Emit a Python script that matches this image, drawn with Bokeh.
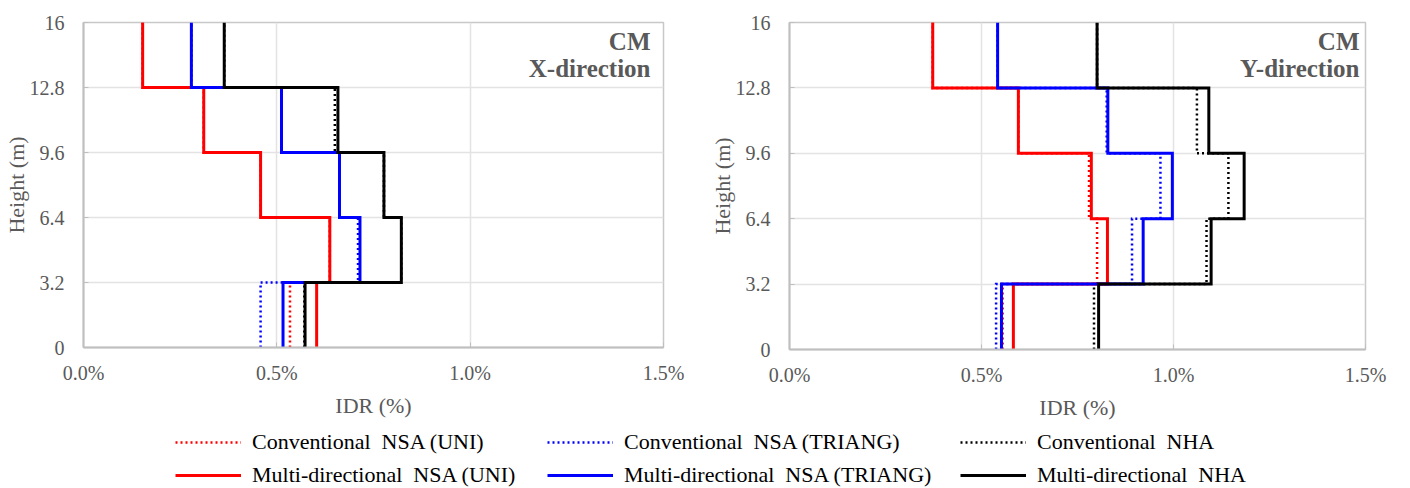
import numpy as np
from bokeh.plotting import figure
from bokeh.layouts import column, row
from bokeh.models import (FixedTicker, PrintfTickFormatter, Label, Legend,
                          LegendItem, Range1d)
from bokeh.embed import file_html
from bokeh.resources import INLINE

# Storey levels (m) and the tick labels on the height axis
heights = [0, 3.2, 6.4, 9.6, 12.8, 16]
idr_ticks = [0.0, 0.5, 1.0, 1.5]

# Inter-storey drift ratio (%) per storey, from storey 1 (bottom) to storey 5 (top)
# X-direction
x_conv_uni = [0.534, 0.637, 0.458, 0.311, 0.153]
x_multi_uni = [0.603, 0.637, 0.458, 0.311, 0.153]
x_conv_tri = [0.458, 0.710, 0.662, 0.512, 0.279]
x_multi_tri = [0.516, 0.715, 0.662, 0.512, 0.279]
x_conv_nha = [0.571, 0.822, 0.777, 0.650, 0.364]
x_multi_nha = [0.573, 0.822, 0.777, 0.658, 0.364]

# Y-direction
y_conv_uni = [0.555, 0.801, 0.780, 0.596, 0.373]
y_multi_uni = [0.583, 0.828, 0.786, 0.596, 0.373]
y_conv_tri = [0.538, 0.892, 0.966, 0.826, 0.542]
y_multi_tri = [0.552, 0.921, 0.997, 0.829, 0.542]
y_conv_nha = [0.793, 1.086, 1.143, 1.061, 0.801]
y_multi_nha = [0.805, 1.098, 1.184, 1.092, 0.801]

series_names = [
    "Conventional  NSA (UNI)", "Conventional  NSA (TRIANG)", "Conventional  NHA",
    "Multi-directional  NSA (UNI)", "Multi-directional  NSA (TRIANG)", "Multi-directional  NHA",
]

RED, BLUE, BLACK = "#ff0000", "#0000ff", "#000000"
GREY_TEXT = "#595959"
FONT = "Liberation Serif"
DOT = "2 3"

styles = [
    dict(line_color=RED, line_dash=DOT, line_width=2.5),
    dict(line_color=BLUE, line_dash=DOT, line_width=2.5),
    dict(line_color=BLACK, line_dash=DOT, line_width=2.5),
    dict(line_color=RED, line_width=3),
    dict(line_color=BLUE, line_width=3),
    dict(line_color=BLACK, line_width=3),
]


def storey_profile(values):
    """Turn per-storey drifts into a stepped drift-vs-height path."""
    h = np.asarray(heights, dtype=float)
    xs = np.repeat(np.asarray(values, dtype=float), 2)
    ys = np.column_stack([h[:-1], h[1:]]).ravel()
    return xs, ys


def make_panel(series, direction, left, right, top, bottom, fw, fh, tx):
    p = figure(frame_width=fw, frame_height=fh,
               min_border_left=left, min_border_right=right,
               min_border_top=top, min_border_bottom=bottom,
               x_range=Range1d(0, 1.5), y_range=Range1d(0, 16),
               output_backend="svg", toolbar_location=None,
               background_fill_color="white", border_fill_color="white")
    p.outline_line_color = "#c8c8c8"
    p.outline_line_width = 1.5

    for vals, st in zip(series, styles):
        xs, ys = storey_profile(vals)
        p.line(xs, ys, line_cap="butt", line_join="miter", **st)

    p.xaxis.ticker = FixedTicker(ticks=idr_ticks)
    p.xaxis.formatter = PrintfTickFormatter(format="%.1f%%")
    p.yaxis.ticker = FixedTicker(ticks=heights)
    p.yaxis.formatter = PrintfTickFormatter(format="%g")

    for ax in (p.xaxis[0], p.yaxis[0]):
        ax.axis_line_color = "#bfbfbf"
        ax.axis_line_width = 2
        ax.major_tick_line_color = "#bfbfbf"
        ax.major_tick_in = 5
        ax.major_tick_out = 0
        ax.minor_tick_line_color = None
        ax.major_label_text_font = FONT
        ax.major_label_text_font_size = "20px"
        ax.major_label_text_color = GREY_TEXT
        ax.axis_label_text_font = FONT
        ax.axis_label_text_font_size = "22px"
        ax.axis_label_text_font_style = "normal"
        ax.axis_label_text_color = GREY_TEXT

    p.xaxis.axis_label = "IDR (%)"
    p.yaxis.axis_label = "Height (m)"
    p.xaxis.major_label_standoff = 14
    p.xaxis.axis_label_standoff = 6
    p.yaxis.major_label_standoff = 19
    p.yaxis.axis_label_standoff = -2

    p.xgrid.grid_line_color = "#e3e3e3"
    p.ygrid.grid_line_color = "#e3e3e3"
    p.xgrid.grid_line_width = 1.5
    p.ygrid.grid_line_width = 1.5

    for txt, dy in (("CM", -19), (direction, -46)):
        p.add_layout(Label(x=1.5, y=16, x_offset=tx, y_offset=dy, text=txt,
                           text_align="right", text_baseline="middle",
                           text_font=FONT, text_font_size="25px",
                           text_font_style="bold", text_color=GREY_TEXT))
    return p


p1 = make_panel([x_conv_uni, x_conv_tri, x_conv_nha, x_multi_uni, x_multi_tri, x_multi_nha],
                "X-direction", left=83, right=37, top=17, bottom=78, fw=580, fh=325, tx=-13)
p2 = make_panel([y_conv_uni, y_conv_tri, y_conv_nha, y_multi_uni, y_multi_tri, y_multi_nha],
                "Y-direction", left=89, right=45, top=22, bottom=71, fw=576, fh=327, tx=-6)

# Shared legend strip underneath both panels; the key renderers hold a single
# NaN point so that only their legend swatches show.
lf = figure(width=1410, height=68, min_border=0, x_range=Range1d(0, 1),
            y_range=Range1d(0, 1), x_axis_type=None, y_axis_type=None,
            output_backend="svg", toolbar_location=None)
lf.outline_line_color = None
lf.xgrid.visible = False
lf.ygrid.visible = False

key_renderers = [lf.line(x=[np.nan], y=[np.nan], **st) for st in styles]

for col, x0 in enumerate([175, 547, 960]):
    items = [LegendItem(label=series_names[col], renderers=[key_renderers[col]]),
             LegendItem(label=series_names[col + 3], renderers=[key_renderers[col + 3]])]
    lg = Legend(items=items, location=(x0, 2), orientation="vertical",
                border_line_color=None, background_fill_alpha=0,
                padding=0, margin=0, spacing=7,
                glyph_width=66, glyph_height=20, label_height=20,
                label_standoff=11, label_text_font=FONT,
                label_text_font_size="22px", label_text_color="#000000")
    lf.add_layout(lg, "center")

layout = column(row(p1, p2), lf)
open("out.html", "w").write(file_html(layout, INLINE))
